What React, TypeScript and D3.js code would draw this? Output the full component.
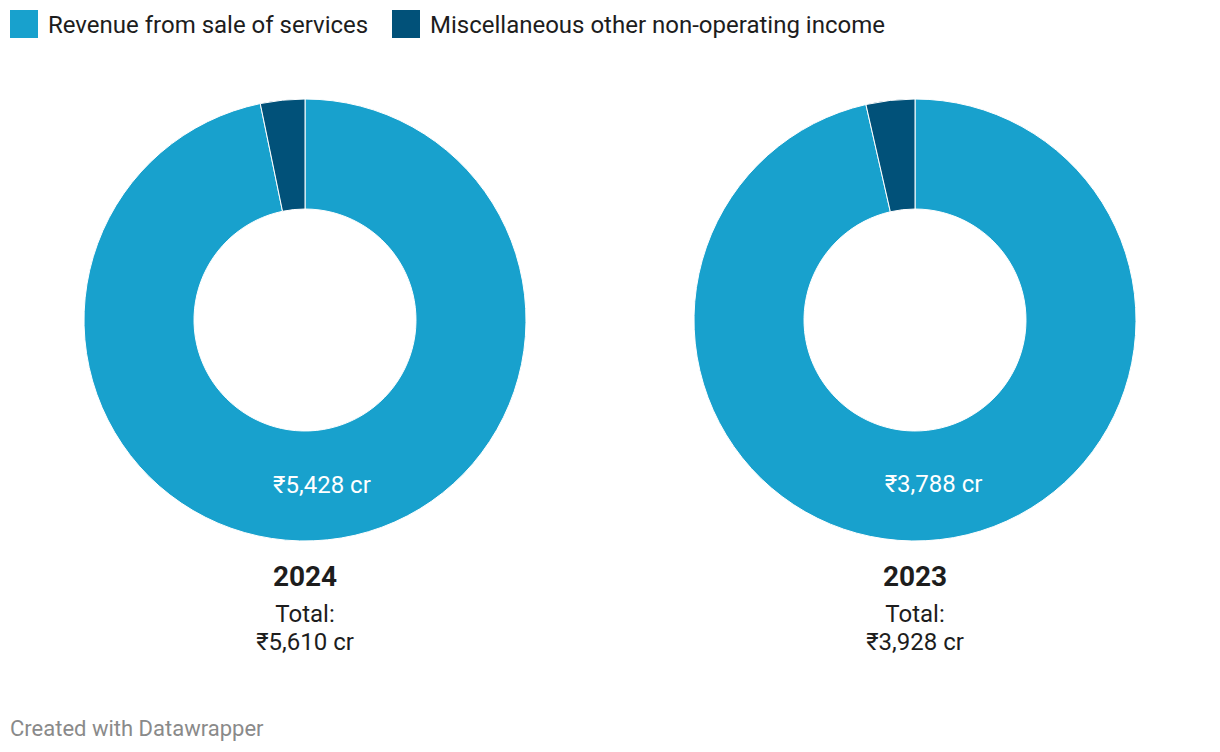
import React from "react";
import * as d3 from "d3";

const categories = ["Revenue from sale of services", "Miscellaneous other non-operating income"];
const colors = ["#18a1cd", "#015179"];
const years = ["2024", "2023"];
const revenue = [5428, 3788];
const misc = [182, 140];
const totals = [5610, 3928];

const W = 1220;
const H = 752;
const font = "Roboto, 'Noto Sans', sans-serif";

export default function App() {
  const outerR = 221;
  const innerR = 111;
  const cx = d3.scalePoint<string>().domain(years).range([305, 915]);
  const cy = 320;
  const pie = d3.pie<number>().sort(null).value((d) => d);
  const arc = d3.arc<d3.PieArcDatum<number>>().innerRadius(innerR).outerRadius(outerR);
  const fmt = (v: number) => "₹" + d3.format(",")(v) + " cr";

  const legendX = [10, 392];

  return (
    <svg width={W} height={H} style={{ position: "absolute", left: 0, top: 0, background: "#fff" }} fontFamily={font}>
      {categories.map((c, i) => (
        <g key={c} transform={`translate(${legendX[i]},10)`}>
          <rect width={28} height={28} fill={colors[i]} />
          <text x={38} y={22.5} fontSize={24} fill="#1d1d1d">{c}</text>
        </g>
      ))}
      {years.map((y, yi) => {
        const arcs = pie([revenue[yi], misc[yi]]);
        const x = cx(y)!;
        const main = arcs[0];
        const [lx, ly] = arc.centroid(main);
        return (
          <g key={y} transform={`translate(${x},${cy})`}>
            {arcs.map((a, i) => (
              <path key={i} d={arc(a)!} fill={colors[i]} stroke="#fff" strokeWidth={1} />
            ))}
            <text x={lx} y={ly + 7.5} textAnchor="middle" fontSize={24} fill="#fff">{fmt(revenue[yi])}</text>
            <text x={0} y={266} textAnchor="middle" fontSize={28} fontWeight="bold" fill="#1d1d1d">{y}</text>
            <text x={0} y={302} textAnchor="middle" fontSize={24} fill="#1d1d1d">Total:</text>
            <text x={0} y={330} textAnchor="middle" fontSize={24} fill="#1d1d1d">{fmt(totals[yi])}</text>
          </g>
        );
      })}
      <text x={10} y={736} fontSize={22} fill="#8a8a8a">Created with Datawrapper</text>
    </svg>
  );
}
